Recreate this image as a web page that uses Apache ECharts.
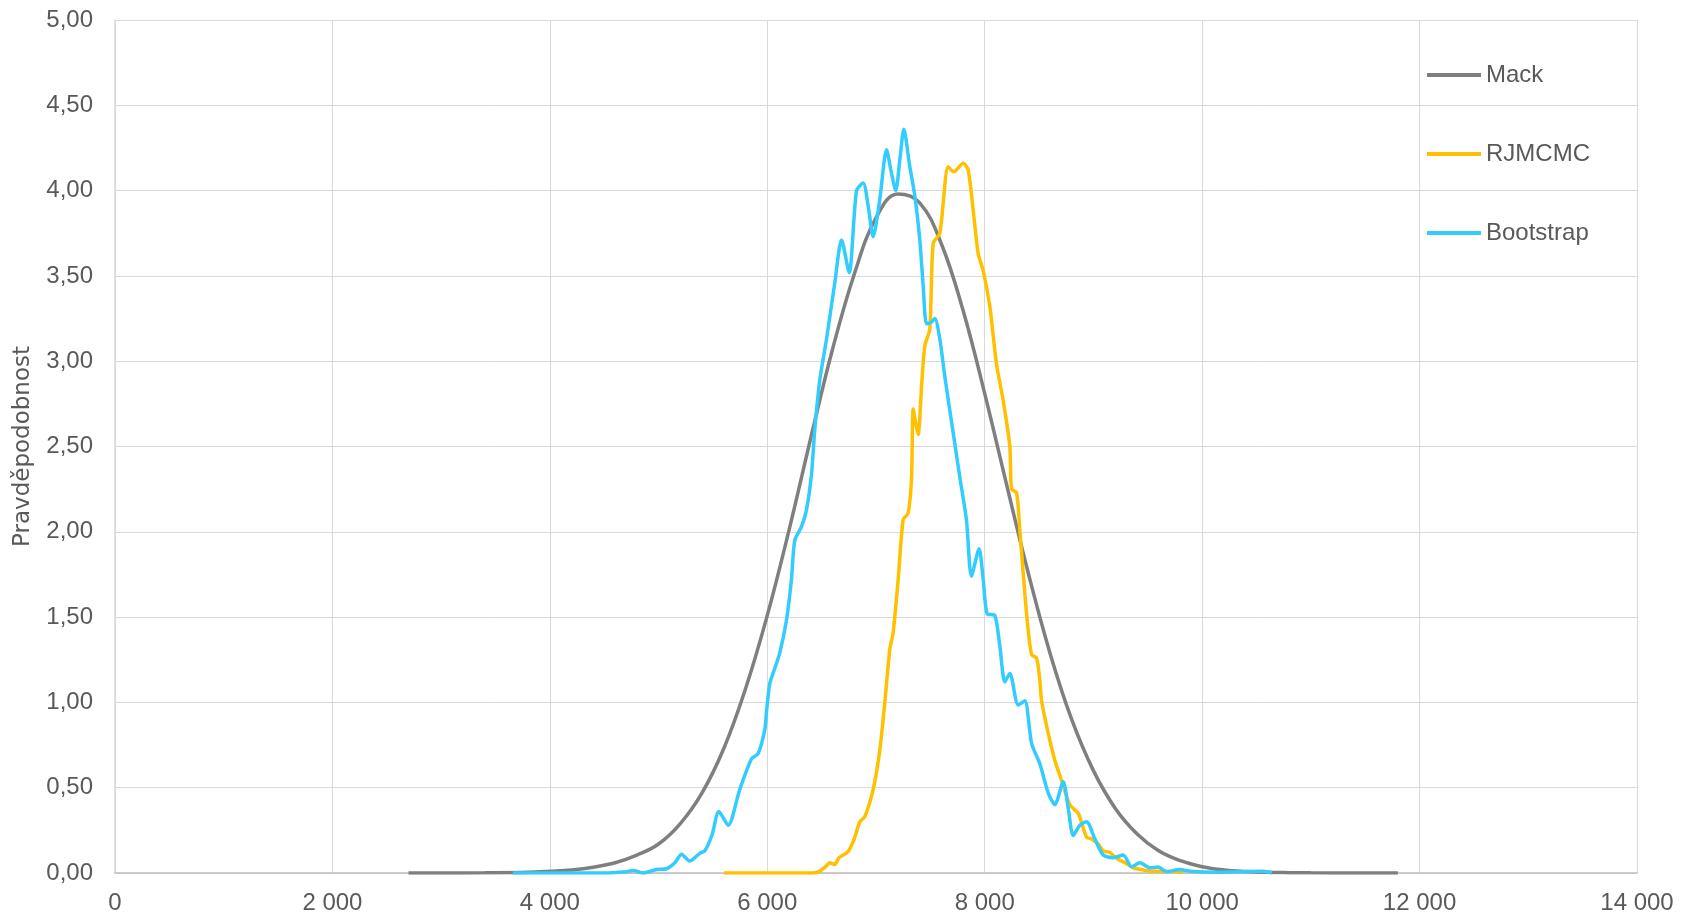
<!DOCTYPE html>
<html>
<head>
<meta charset="utf-8">
<title>Pravděpodobnost</title>
<script src="https://cdn.jsdelivr.net/npm/echarts@6/dist/echarts.min.js"></script>
<style>
  html, body { margin: 0; padding: 0; background: #fff; }
  #chart { width: 1690px; height: 919px; }
</style>
</head>
<body>
<div id="chart"></div>
<script>
// Mack
const mackX = [2700, 3000, 3400, 3800, 4000, 4200, 4400, 4600, 4800, 5000, 5200, 5400, 5600, 5800, 6000, 6200, 6400, 6600, 6800, 7000, 7200, 7400, 7600, 7800, 8000, 8200, 8400, 8600, 8800, 9000, 9200, 9400, 9600, 9800, 10000, 10200, 10400, 10600, 10800, 11000, 11400, 11800]
const mackY = [0, 0, 0.001, 0.004, 0.01, 0.018, 0.034, 0.06, 0.105, 0.17, 0.29, 0.47, 0.73, 1.08, 1.51, 2.01, 2.55, 3.07, 3.51, 3.84, 3.98, 3.93, 3.69, 3.30, 2.81, 2.28, 1.76, 1.29, 0.90, 0.60, 0.38, 0.23, 0.13, 0.072, 0.037, 0.018, 0.009, 0.004, 0.002, 0.001, 0, 0]

// RJMCMC
const rjX = [5600, 6000, 6400, 6480, 6540, 6575, 6620, 6660, 6743, 6800, 6851, 6897, 6974, 7035, 7081, 7127, 7158, 7204, 7250, 7296, 7327, 7342, 7370, 7388, 7419, 7449, 7495, 7526, 7587, 7664, 7716, 7802, 7848, 7900, 7940, 7986, 8047, 8109, 8170, 8231, 8247, 8293, 8323, 8385, 8431, 8477, 8507, 8523, 8584, 8645, 8706, 8783, 8860, 8937, 8982, 9043, 9090, 9151, 9213, 9290, 9366, 9443, 9520, 9642, 9826]
const rjY = [0, 0, 0, 0.01, 0.04, 0.06, 0.05, 0.09, 0.125, 0.2, 0.30, 0.33, 0.49, 0.72, 1.0, 1.31, 1.41, 1.72, 2.07, 2.11, 2.32, 2.72, 2.62, 2.57, 2.85, 3.09, 3.19, 3.69, 3.75, 4.14, 4.11, 4.16, 4.12, 3.85, 3.63, 3.53, 3.32, 2.98, 2.77, 2.50, 2.25, 2.23, 2.01, 1.52, 1.28, 1.26, 1.13, 1.01, 0.82, 0.66, 0.545, 0.40, 0.35, 0.21, 0.20, 0.17, 0.13, 0.12, 0.086, 0.06, 0.03, 0.02, 0.01, 0.01, 0.005]

// Bootstrap
const bsX = [3660, 4500, 4705, 4766, 4858, 4981, 5073, 5150, 5211, 5287, 5379, 5425, 5490, 5555, 5640, 5747, 5855, 5916, 5977, 5992, 6023, 6069, 6115, 6176, 6222, 6253, 6315, 6361, 6407, 6437, 6483, 6545, 6621, 6683, 6753, 6821, 6882, 6928, 6974, 7035, 7097, 7143, 7182, 7219, 7256, 7311, 7357, 7403, 7434, 7465, 7511, 7541, 7587, 7633, 7710, 7771, 7832, 7878, 7948, 7986, 8022, 8093, 8139, 8185, 8231, 8308, 8369, 8431, 8507, 8584, 8645, 8722, 8768, 8814, 8875, 8937, 9013, 9090, 9182, 9274, 9351, 9427, 9520, 9596, 9673, 9796, 9888, 10133, 10562, 10640]
const bsY = [0, 0, 0.008, 0.015, 0, 0.02, 0.025, 0.06, 0.11, 0.07, 0.115, 0.13, 0.22, 0.36, 0.28, 0.49, 0.67, 0.70, 0.84, 0.94, 1.11, 1.20, 1.29, 1.48, 1.72, 1.95, 2.03, 2.13, 2.34, 2.60, 2.89, 3.13, 3.46, 3.71, 3.52, 4.0, 4.045, 3.91, 3.73, 3.95, 4.24, 4.10, 4.0, 4.18, 4.36, 4.14, 3.97, 3.71, 3.44, 3.22, 3.23, 3.25, 3.13, 2.91, 2.58, 2.32, 2.07, 1.74, 1.90, 1.72, 1.52, 1.51, 1.33, 1.12, 1.17, 0.985, 1.01, 0.76, 0.64, 0.47, 0.40, 0.535, 0.38, 0.22, 0.28, 0.30, 0.20, 0.105, 0.09, 0.105, 0.037, 0.06, 0.03, 0.035, 0.008, 0.02, 0.01, 0.005, 0.01, 0]

const seriesNames = ['Mack', 'RJMCMC', 'Bootstrap']
const seriesColors = ['#7f7f7f', '#ffc000', '#33ccff']

const font = "'Liberation Sans', Arial, sans-serif"
const textColor = '#595959'

const zip = (xs, ys) => xs.map((x, i) => [x, ys[i]])

const chart = echarts.init(document.getElementById('chart'))

const makeLine = (name, data, color, smooth) => ({
  name: name,
  type: 'line',
  data: data,
  symbol: 'none',
  smooth: smooth,
  lineStyle: { width: 3.5, color: color },
  itemStyle: { color: color }
})

const option = {
  animation: false,
  backgroundColor: '#fff',
  grid: { left: 115, right: 53, top: 20, bottom: 46 },
  legend: {
    orient: 'vertical',
    left: 1422,
    top: 56,
    icon: 'rect',
    itemWidth: 54,
    itemHeight: 4,
    itemGap: 51,
    data: seriesNames,
    textStyle: { fontFamily: font, fontSize: 24, color: textColor, lineHeight: 28 }
  },
  xAxis: {
    type: 'value',
    min: 0,
    max: 14000,
    interval: 2000,
    axisLine: { show: true, lineStyle: { color: '#bfbfbf', width: 1.5 } },
    axisTick: { show: false },
    splitLine: { show: true, lineStyle: { color: '#d9d9d9', width: 1 } },
    axisLabel: {
      margin: 18,
      fontFamily: font,
      fontSize: 24,
      color: textColor,
      formatter: v => String(v).replace(/\B(?=(\d{3})+(?!\d))/g, ' ')
    }
  },
  yAxis: {
    type: 'value',
    min: 0,
    max: 5,
    interval: 0.5,
    name: 'Pravděpodobnost',
    nameLocation: 'middle',
    nameGap: 80,
    nameTextStyle: { fontFamily: "'DejaVu Sans', sans-serif", fontSize: 23, color: textColor },
    axisLine: { show: true, lineStyle: { color: '#d9d9d9', width: 1.5 } },
    axisTick: { show: false },
    splitLine: { show: true, lineStyle: { color: '#d9d9d9', width: 1 } },
    axisLabel: {
      margin: 22,
      fontFamily: font,
      fontSize: 24,
      color: textColor,
      formatter: v => v.toFixed(2).replace('.', ',')
    }
  },
  series: [
    makeLine(seriesNames[0], zip(mackX, mackY), seriesColors[0], 0.4),
    makeLine(seriesNames[1], zip(rjX, rjY), seriesColors[1], 0.25),
    makeLine(seriesNames[2], zip(bsX, bsY), seriesColors[2], 0.25)
  ]
}

chart.setOption(option)
</script>
</body>
</html>
